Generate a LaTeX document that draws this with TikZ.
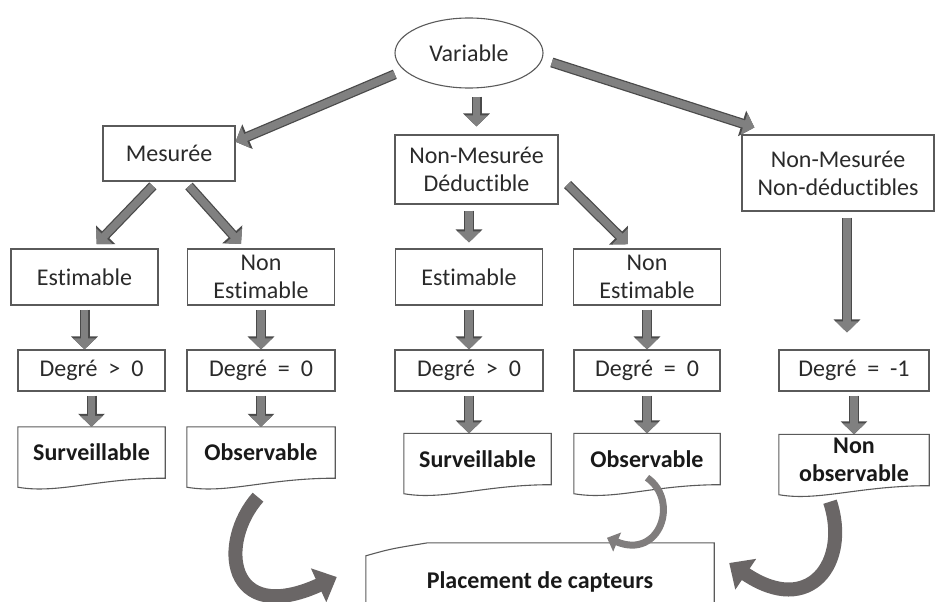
\documentclass[tikz,border=0pt]{standalone}
\usepackage{fontspec}
\setmainfont{Carlito}[Ligatures=NoCommon]
\usetikzlibrary{shapes.geometric,arrows.meta,calc}

\definecolor{boxgray}{HTML}{5A5A5A}
\definecolor{txtgray}{HTML}{2A2A2A}
\definecolor{arrfill}{HTML}{808080}
\definecolor{arredge}{HTML}{4A4A4A}
\definecolor{curvegray}{HTML}{6A6666}

\tikzset{
	box/.style={draw=boxgray, line width=1.1pt, inner sep=0pt, align=center, text=txtgray, font=\fontsize{24}{28}\selectfont},
	docbox/.style={inner sep=0pt, align=center, text=black!90, font=\fontsize{24}{28}\selectfont\bfseries, minimum width=147pt, minimum height=51pt},
	blockarrow/.style={draw=arrfill, line width=7.5pt, -{Triangle[length=11pt,width=22pt]},
		preaction={draw=arredge, line width=10pt, -{Triangle[length=13pt,width=26pt]}}},
	bigcurve/.style={draw=curvegray, line width=14pt, -{Triangle[length=20pt,width=36pt]}},
	thincurve/.style={draw=curvegray!85, line width=7pt, -{Triangle[length=11pt,width=20pt]}},
}

\begin{document}
\begin{tikzpicture}[x=1pt,y=-1pt]
	\useasboundingbox (0,0) rectangle (937,602);

	% top levels
	\node[box, shape=ellipse, minimum width=148pt, minimum height=70pt] (var) at (469,53) {Variable};
	\node[box, minimum width=132pt, minimum height=55pt] (mes) at (169,153.5) {Mesurée};
	\node[box, minimum width=163pt, minimum height=69pt] (nmd) at (476.5,169.5) {Non-Mesurée\\Déductible};
	\node[box, minimum width=192pt, minimum height=76pt] (nmnd) at (838,173) {Non-Mesurée\\Non-déductibles};

	% estimable or not
	\foreach \n/\x/\t in {est1/84.5/Estimable, nest1/261/{Non\\Estimable}, est2/469/Estimable, nest2/647/{Non\\Estimable}}
		\node[box, minimum width=147pt, minimum height=56pt] (\n) at (\x,277) {\t};

	% degree row
	\foreach \n/\x/\w/\t in {d1/91.5/147/{Degré~ >~ 0}, d2/261/148/{Degré~ =~ 0}, d3/469/148/{Degré~ >~ 0}, d4/647/146/{Degré~ =~ 0}, d5/854/150/{Degré~ =~ -1}}
		\node[box, minimum width=\w pt, minimum height=41pt] (\n) at (\x,370.5) {\t};

	% results (document shapes)
	\node[docbox] (s1) at (91.5,452.5) {Surveillable};
	\node[docbox, minimum width=148pt] (o1) at (261,452.5) {Observable};
	\node[docbox] (s2) at (477.5,459) {Surveillable};
	\node[docbox, minimum width=146pt] (o2) at (647,459) {Observable};
	\node[docbox, minimum width=150pt] (no) at (854,460) {Non\\observable};
	\foreach \n in {s1,o1,s2,o2,no}
		\draw[boxgray, line width=1.1pt] ($(\n.south west)+(0,9)$) -- (\n.north west) -- (\n.north east) -- (\n.south east)
			.. controls ($(\n.south west)+(80,0)$) and ($(\n.south west)+(40,16)$) .. ($(\n.south west)+(0,9)$) -- cycle;

	\node[docbox, minimum width=348pt, minimum height=78pt] (pc) at (540,582) {Placement de capteurs};
	\draw[boxgray, line width=1.1pt] (pc.south west) -- ($(pc.north west)+(0,13)$)
		.. controls ($(pc.north west)+(25,6)$) .. ($(pc.north west)+(62,0)$) -- (pc.north east) -- (pc.south east);

	% straight arrows
	\draw[blockarrow, shorten <=10pt] (var.195) -- (mes.10);
	\draw[blockarrow, shorten <=8pt, shorten >=8pt] (var.south -| nmd.north) -- (nmd.north);
	\draw[blockarrow, shorten <=10pt] (var.355) -- ($(nmnd.north west)+(13,-7)$);
	\draw[blockarrow, shorten <=6pt, shorten >=6pt] ([xshift=-12pt]mes.south) -- ([xshift=8pt]est1.north);
	\draw[blockarrow, shorten <=6pt, shorten >=6pt] ([xshift=16pt]mes.south) -- ([xshift=-16pt]nest1.north);
	\draw[blockarrow, shorten <=6pt, shorten >=6pt] (nmd.south -| est2.north) -- (est2.north);
	\draw[blockarrow, shorten >=6pt] ([xshift=9pt,yshift=-15pt]nmd.east) -- ([xshift=-15pt]nest2.north);
	\draw[blockarrow, shorten <=6pt, shorten >=17pt] ([xshift=9pt]nmnd.south) -- ([xshift=-7pt]d5.north);
	\foreach \a/\b in {est1/d1,nest1/d2,est2/d3,nest2/d4,d1/s1,d2/o1,d3/s2,d4/o2,d5/no}
		\draw[blockarrow, shorten <=4pt] (\a.south) -- (\a.south |- \b.north);

	% curved arrows to the placement box
	\draw[bigcurve] ($(o1.south)+(-3,19)$) .. controls ($(o1.south)+(-43,64)$) and ($(pc.west)+(-139,45)$) .. ($(pc.west)+(-29,-5)$);
	\draw[thincurve] ($(o2.south)+(0,-7)$) .. controls ($(o2.south)+(33,16)$) and ($(pc.north)+(120,17)$) .. ($(pc.north)+(67,-5)$);
	\draw[bigcurve] ($(no.south)+(-24,16)$) .. controls ($(no.south)+(-4,76)$) and ($(pc.east)+(96,36)$) .. ($(pc.east)+(15,-19)$);
\end{tikzpicture}
\end{document}
